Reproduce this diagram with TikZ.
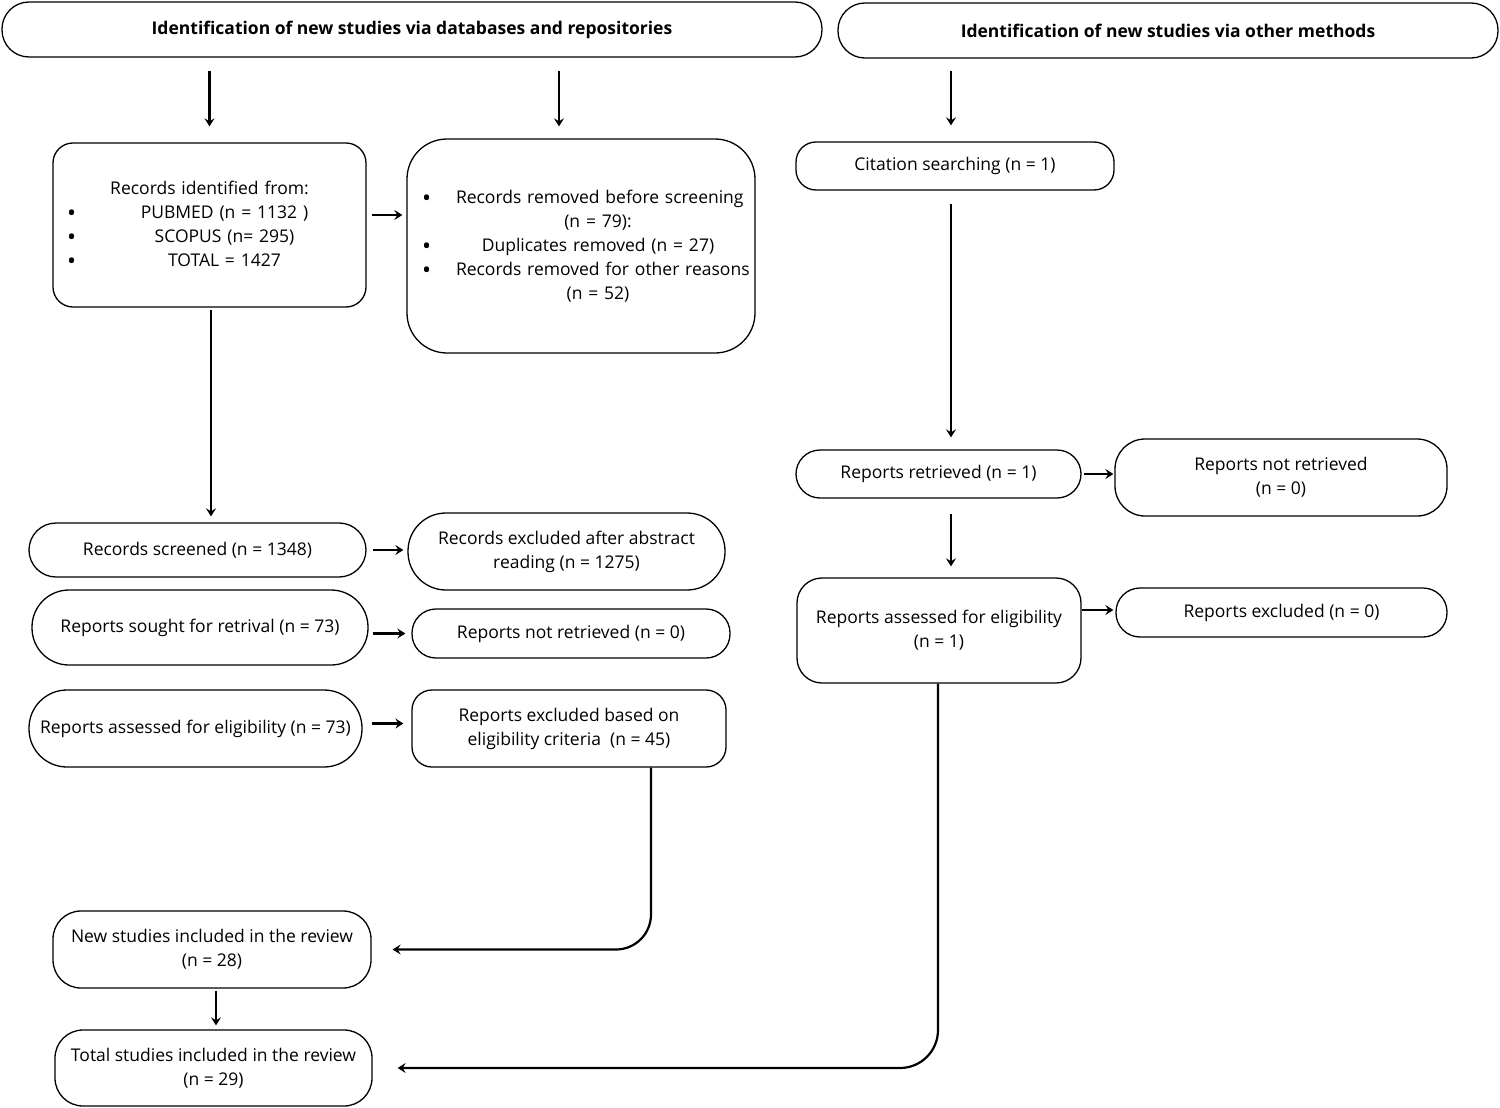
\documentclass[tikz,border=0pt]{standalone}
\usepackage{fontspec}
\setmainfont{Open Sans}
\usetikzlibrary{arrows.meta}
\newcommand{\bitem}[2][0pt]{\noindent\hbox to\hsize{\rlap{\raisebox{-3pt}{\fontsize{24pt}{24pt}\selectfont\textbullet}}\hfil\hskip#1\relax#2\hfil}}
\newcommand{\citem}[2][0pt]{\noindent\hbox to\hsize{\hfil\hskip#1\relax#2\hfil}}

\begin{document}
\begin{tikzpicture}[x=1pt,y=-1pt,
    box/.style={draw,line width=1.3pt,align=center,inner sep=0pt,font=\fontsize{17.5pt}{24pt}\selectfont},
    head/.style={box,font=\fontsize{17.5pt}{20pt}\selectfont\bfseries},
    arrow/.style={-{Stealth[length=8pt,width=10pt,inset=3pt]},line width=2.2pt}]
      \useasboundingbox (0,0) rectangle (1500,1108);

      \node[head,minimum width=820pt,minimum height=55pt,rounded corners=27pt] (1) at (412,29.5) {Identification of new studies via databases and repositories};
      \node[head,minimum width=660pt,minimum height=55pt,rounded corners=27pt] (2) at (1168,30.5) {Identification of new studies via other methods};

      \node[box,minimum width=313pt,minimum height=164pt,rounded corners=20pt,text width=285pt] (3) at (209.5,225)
        {\citem{Records identified from:}\\\bitem[30pt]{PUBMED (n = 1132 )}\\\bitem[30pt]{SCOPUS (n= 295)}\\\bitem[30pt]{TOTAL = 1427}};
      \node[box,minimum width=348pt,minimum height=214pt,rounded corners=40pt,text width=318pt] (4) at (581,246)
        {\bitem[34pt]{Records removed before screening}\\\citem[34pt]{(n = 79):}\\\bitem[34pt]{Duplicates removed (n = 27)}\\\bitem[34pt]{Records removed for other reasons}\\\citem[34pt]{(n = 52)}};
      \node[box,minimum width=318pt,minimum height=48pt,rounded corners=20pt] (5) at (955,166) {Citation searching (n = 1)};

      \node[box,minimum width=337pt,minimum height=54pt,rounded corners=27pt] (6) at (197.5,550) {Records screened (n = 1348)};
      \node[box,minimum width=317pt,minimum height=77pt,rounded corners=38pt] (7) at (566.5,551.5) {Records excluded after abstract\\reading (n = 1275)};
      \node[box,minimum width=336pt,minimum height=75pt,rounded corners=37pt] (8) at (200,627.5) {Reports sought for retrival (n = 73)};
      \node[box,minimum width=318pt,minimum height=49pt,rounded corners=24pt] (9) at (571,633.5) {Reports not retrieved (n = 0)};
      \node[box,minimum width=333pt,minimum height=77pt,rounded corners=38pt] (10) at (195.5,728.5) {Reports assessed for eligibility (n = 73)};
      \node[box,minimum width=314pt,minimum height=77pt,rounded corners=20pt] (11) at (569,728.5) {Reports excluded based on\\eligibility criteria\ \ (n = 45)};
      \node[box,minimum width=318pt,minimum height=77pt,rounded corners=28pt] (12) at (212,949.5) {New studies included in the review\\(n = 28)};
      \node[box,minimum width=317pt,minimum height=76pt,rounded corners=28pt] (13) at (213.5,1068) {Total studies included in the review\\(n = 29)};

      \node[box,minimum width=285pt,minimum height=48pt,rounded corners=24pt] (14) at (938.5,474) {Reports retrieved (n = 1)};
      \node[box,minimum width=332pt,minimum height=77pt,rounded corners=30pt] (15) at (1281,477.5) {Reports not retrieved\\(n = 0)};
      \node[box,minimum width=284pt,minimum height=105pt,rounded corners=25pt] (16) at (939,630.5) {Reports assessed for eligibility\\(n = 1)};
      \node[box,minimum width=331pt,minimum height=49pt,rounded corners=24pt] (17) at (1281.5,612.5) {Reports excluded (n = 0)};

      \draw[arrow,shorten <=13pt,shorten >=16pt] (3.north |- 1.south) -- (3.north);
      \draw[arrow,shorten <=13pt,shorten >=12pt] ([xshift=-22pt]4.north |- 1.south) -- ([xshift=-22pt]4.north);
      \draw[arrow,shorten <=12pt,shorten >=16pt] ([xshift=-4pt]5.north |- 2.south) -- ([xshift=-4pt]5.north);
      \draw[arrow,shorten <=5pt,shorten >=4pt] ([yshift=10pt]3.east) -- ([yshift=10pt]3.east -| 4.west);
      \draw[arrow,shorten <=13pt,shorten >=12pt] ([xshift=-4pt]5.south) -- ([xshift=-4pt]5.south |- 14.north);
      \draw[arrow,shorten <=2pt,shorten >=6pt] ([xshift=1.5pt]3.south) -- ([xshift=1.5pt]3.south |- 6.north);
      \draw[arrow,shorten <=6pt,shorten >=4pt] (6.east) -- (6.east -| 7.west);
      \draw[arrow,shorten <=4pt,shorten >=6pt] (8.east |- 9.west) -- (9.west);
      \draw[arrow,shorten <=9pt,shorten >=8pt] ([yshift=5pt]10.east) -- ([yshift=5pt]10.east -| 11.west);
      \draw[arrow,rounded corners=35pt,shorten >=21pt] ([xshift=82pt]11.south) |- (12.east);
      \draw[arrow,shorten <=2pt,shorten >=4pt] ([xshift=4pt]12.south) -- ([xshift=4pt]12.south |- 13.north);
      \draw[arrow,shorten <=2pt,shorten >=1pt] (14.east) -- (14.east -| 15.west);
      \draw[arrow,shorten <=15pt,shorten >=11pt] ([xshift=12.5pt]14.south) -- ([xshift=12.5pt]14.south |- 16.north);
      \draw[arrow,shorten >=2pt] ([yshift=20.5pt]16.east) -- ([yshift=20.5pt]16.east -| 17.west);
      \draw[arrow,rounded corners=38pt,shorten >=25pt] ([xshift=-1pt]16.south) |- (13.east);
    \end{tikzpicture}
\end{document}
